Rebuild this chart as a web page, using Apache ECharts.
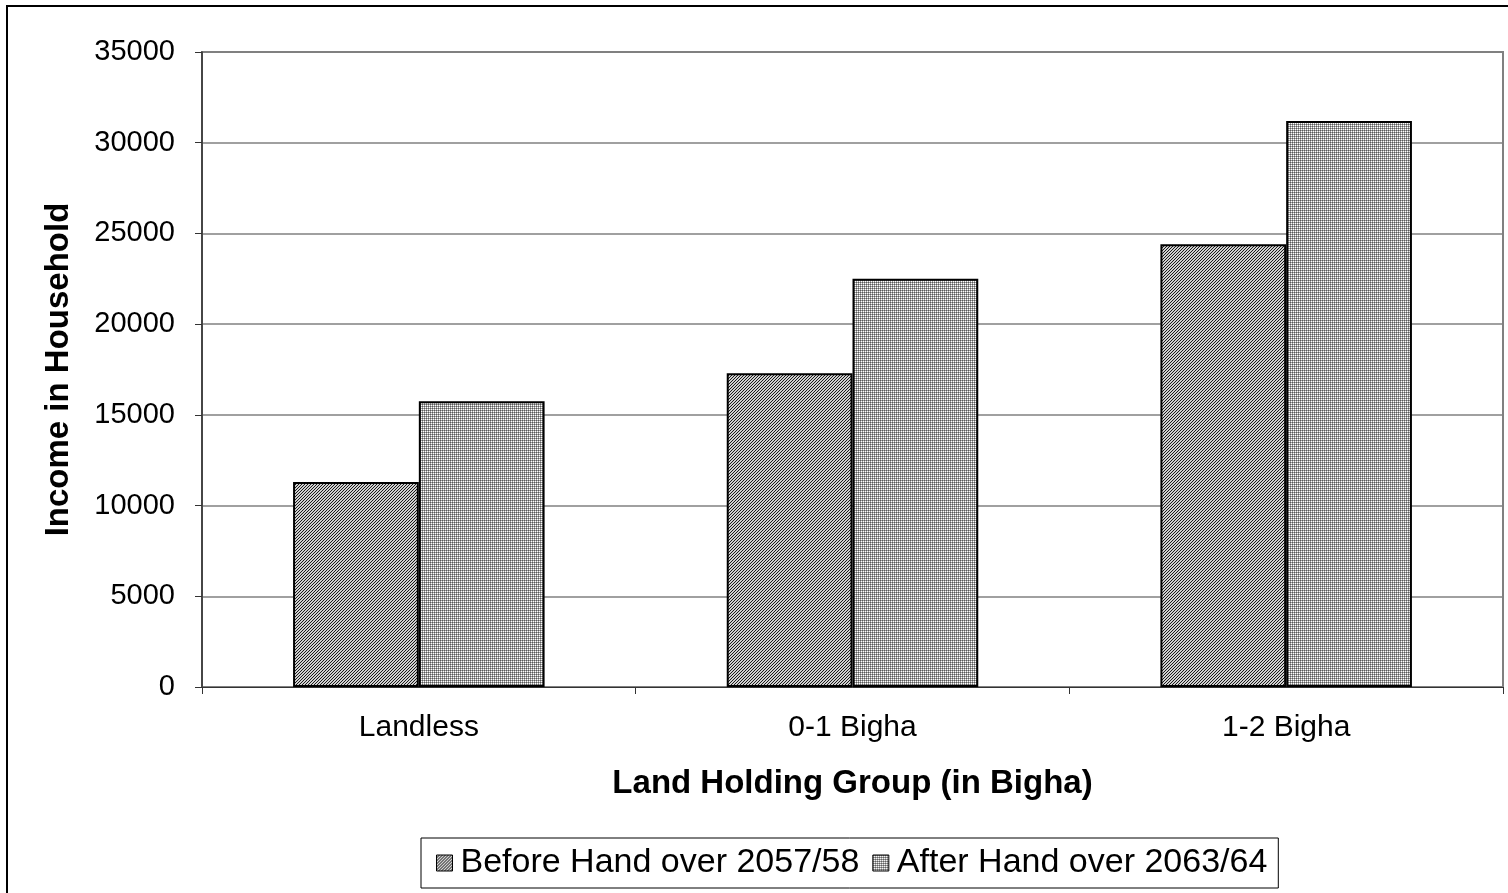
<!DOCTYPE html>
<html>
<head>
<meta charset="utf-8">
<style>
  html, body { margin: 0; padding: 0; background: #fff; }
  #chart { width: 1508px; height: 893px; }
</style>
<script src="https://cdn.jsdelivr.net/npm/echarts@6/dist/echarts.min.js"></script>
</head>
<body>
<div id="chart"></div>
<script>
// Household income by land holding group
const categories = ['Landless', '0-1 Bigha', '1-2 Bigha'];
const seriesNames = ['Before Hand over 2057/58', 'After Hand over 2063/64'];
const beforeValues = [11300, 17300, 24400];
const afterValues = [15750, 22500, 31200];
const yTicks = [0, 5000, 10000, 15000, 20000, 25000, 30000, 35000];

// Fine diagonal hatch fill
function hatchPattern() {
  const c = document.createElement('canvas');
  c.width = 3; c.height = 3;
  const ctx = c.getContext('2d');
  ctx.fillStyle = '#d0d0d0';
  ctx.fillRect(0, 0, 3, 3);
  ctx.fillStyle = '#1a1a1a';
  for (let i = 0; i < 3; i++) ctx.fillRect(2 - i, i, 1, 1);
  return c;
}

// Fine dotted grid fill
function gridPattern() {
  const c = document.createElement('canvas');
  c.width = 2; c.height = 2;
  const ctx = c.getContext('2d');
  ctx.fillStyle = '#ffffff';
  ctx.fillRect(0, 0, 2, 2);
  ctx.fillStyle = '#a0a0a0';
  ctx.fillRect(1, 0, 1, 1);
  ctx.fillRect(0, 1, 1, 1);
  ctx.fillStyle = '#5a5a5a';
  ctx.fillRect(0, 0, 1, 1);
  return c;
}

const chart = echarts.init(document.getElementById('chart'));
const font = '"Liberation Sans", Arial, sans-serif';

chart.setOption({
  animation: false,
  backgroundColor: '#ffffff',
  graphic: [{
    type: 'rect',
    shape: { x: 7, y: 6, width: 1520, height: 910 },
    style: { fill: 'none', stroke: '#000', lineWidth: 2 },
    silent: true,
    z: 0
  }],
  grid: {
    left: 202, right: 5, top: 52, bottom: 206,
    show: true, borderColor: '#808080', borderWidth: 2, backgroundColor: 'transparent'
  },
  legend: {
    bottom: 5,
    left: 421,
    icon: 'rect',
    itemWidth: 16,
    itemHeight: 16,
    itemGap: 13,
    padding: [8, 11, 8, 15],
    borderColor: '#000',
    borderWidth: 1,
    textStyle: { fontFamily: font, fontSize: 34, color: '#000', padding: [0, 0, 0, 3] },
    itemStyle: { borderColor: '#000', borderWidth: 1 },
    data: seriesNames
  },
  xAxis: {
    type: 'category',
    data: categories,
    name: 'Land Holding Group (in Bigha)',
    nameLocation: 'middle',
    nameGap: 80,
    nameTextStyle: { fontFamily: font, fontSize: 33, fontWeight: 'bold', color: '#000' },
    axisLine: { lineStyle: { color: '#333', width: 1 } },
    axisTick: { show: true, length: 7, lineStyle: { color: '#333' } },
    axisLabel: { fontFamily: font, fontSize: 30, color: '#000', margin: 26 }
  },
  yAxis: {
    type: 'value',
    min: yTicks[0],
    max: yTicks[yTicks.length - 1],
    interval: yTicks[1] - yTicks[0],
    name: 'Income in Household',
    nameLocation: 'middle',
    nameGap: 127,
    nameTextStyle: { fontFamily: font, fontSize: 33, fontWeight: 'bold', color: '#000' },
    axisLine: { show: true, lineStyle: { color: '#333', width: 1.5 } },
    axisTick: { show: true, length: 7, lineStyle: { color: '#333' } },
    axisLabel: { fontFamily: font, fontSize: 29, color: '#000', margin: 27, formatter: v => String(v) },
    splitLine: { show: true, lineStyle: { color: '#808080', width: 1.5 } }
  },
  series: [
    {
      name: seriesNames[0],
      type: 'bar',
      data: beforeValues,
      barGap: '0%',
      barCategoryGap: '42%',
      itemStyle: {
        color: { image: hatchPattern(), repeat: 'repeat' },
        borderColor: '#000',
        borderWidth: 2
      }
    },
    {
      name: seriesNames[1],
      type: 'bar',
      data: afterValues,
      barGap: '0%',
      barCategoryGap: '42%',
      itemStyle: {
        color: { image: gridPattern(), repeat: 'repeat' },
        borderColor: '#000',
        borderWidth: 2
      }
    }
  ]
});
</script>
</body>
</html>
